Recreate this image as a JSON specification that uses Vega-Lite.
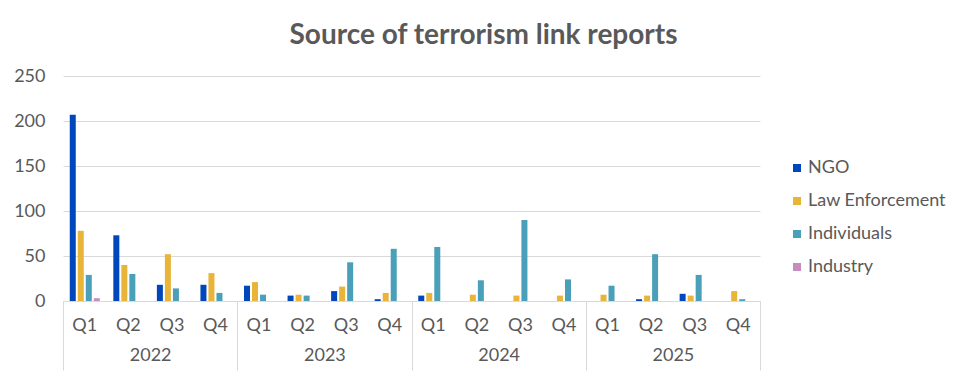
{
  "$schema": "https://vega.github.io/schema/vega-lite/v6.json",
  "width": 697,
  "height": 225,
  "autosize": {"type": "none"},
  "padding": {"left": 63, "top": 76, "right": 208, "bottom": 83},
  "background": "white",
  "title": {
    "text": "Source of terrorism link reports",
    "font": "Lato",
    "fontSize": 28,
    "fontWeight": "bold",
    "color": "#595959",
    "anchor": "middle",
    "frame": "group",
    "dx": 72,
    "offset": 17
  },
  "config": {
    "view": {"stroke": null},
    "font": "Lato"
  },
  "layer": [
    {
      "data": {
        "values": [
          {"period": "2022 Q1", "source": "NGO", "value": 207},
          {"period": "2022 Q1", "source": "Law Enforcement", "value": 78},
          {"period": "2022 Q1", "source": "Individuals", "value": 29},
          {"period": "2022 Q1", "source": "Industry", "value": 3},
          {"period": "2022 Q2", "source": "NGO", "value": 73},
          {"period": "2022 Q2", "source": "Law Enforcement", "value": 40},
          {"period": "2022 Q2", "source": "Individuals", "value": 30},
          {"period": "2022 Q3", "source": "NGO", "value": 18},
          {"period": "2022 Q3", "source": "Law Enforcement", "value": 52},
          {"period": "2022 Q3", "source": "Individuals", "value": 14},
          {"period": "2022 Q4", "source": "NGO", "value": 18},
          {"period": "2022 Q4", "source": "Law Enforcement", "value": 31},
          {"period": "2022 Q4", "source": "Individuals", "value": 9},
          {"period": "2023 Q1", "source": "NGO", "value": 17},
          {"period": "2023 Q1", "source": "Law Enforcement", "value": 21},
          {"period": "2023 Q1", "source": "Individuals", "value": 7},
          {"period": "2023 Q2", "source": "NGO", "value": 6},
          {"period": "2023 Q2", "source": "Law Enforcement", "value": 7},
          {"period": "2023 Q2", "source": "Individuals", "value": 6},
          {"period": "2023 Q3", "source": "NGO", "value": 11},
          {"period": "2023 Q3", "source": "Law Enforcement", "value": 16},
          {"period": "2023 Q3", "source": "Individuals", "value": 43},
          {"period": "2023 Q4", "source": "NGO", "value": 2},
          {"period": "2023 Q4", "source": "Law Enforcement", "value": 9},
          {"period": "2023 Q4", "source": "Individuals", "value": 58},
          {"period": "2024 Q1", "source": "NGO", "value": 6},
          {"period": "2024 Q1", "source": "Law Enforcement", "value": 9},
          {"period": "2024 Q1", "source": "Individuals", "value": 60},
          {"period": "2024 Q2", "source": "Law Enforcement", "value": 7},
          {"period": "2024 Q2", "source": "Individuals", "value": 23},
          {"period": "2024 Q3", "source": "Law Enforcement", "value": 6},
          {"period": "2024 Q3", "source": "Individuals", "value": 90},
          {"period": "2024 Q4", "source": "Law Enforcement", "value": 6},
          {"period": "2024 Q4", "source": "Individuals", "value": 24},
          {"period": "2025 Q1", "source": "Law Enforcement", "value": 7},
          {"period": "2025 Q1", "source": "Individuals", "value": 17},
          {"period": "2025 Q2", "source": "NGO", "value": 2},
          {"period": "2025 Q2", "source": "Law Enforcement", "value": 6},
          {"period": "2025 Q2", "source": "Individuals", "value": 52},
          {"period": "2025 Q3", "source": "NGO", "value": 8},
          {"period": "2025 Q3", "source": "Law Enforcement", "value": 6},
          {"period": "2025 Q3", "source": "Individuals", "value": 29},
          {"period": "2025 Q4", "source": "Law Enforcement", "value": 11},
          {"period": "2025 Q4", "source": "Individuals", "value": 2}
        ]
      },
      "mark": {"type": "bar"},
      "encoding": {
        "x": {
          "field": "period",
          "type": "nominal",
          "sort": null,
          "scale": {"paddingInner": 0.31, "paddingOuter": 0.155},
          "axis": {
            "title": null,
            "orient": "bottom",
            "labelExpr": "slice(datum.label, 5)",
            "labelAngle": 0,
            "ticks": false,
            "grid": false,
            "domain": true,
            "domainColor": "#d9d9d9",
            "domainWidth": 1,
            "labelFont": "Lato",
            "labelFontSize": 18,
            "labelColor": "#595959",
            "labelPadding": 15
          }
        },
        "xOffset": {
          "field": "source",
          "type": "nominal",
          "sort": ["NGO", "Law Enforcement", "Individuals", "Industry"],
          "scale": {"domain": ["NGO", "Law Enforcement", "Individuals", "Industry"], "paddingInner": 0.25, "paddingOuter": 0}
        },
        "y": {
          "field": "value",
          "type": "quantitative",
          "scale": {"domain": [0, 250], "nice": false},
          "axis": {
            "title": null,
            "values": [0, 50, 100, 150, 200, 250],
            "domain": false,
            "ticks": false,
            "gridColor": "#d9d9d9",
            "gridWidth": 1,
            "labelFont": "Lato",
            "labelFontSize": 18,
            "labelColor": "#595959",
            "labelPadding": 18
          }
        },
        "color": {
          "field": "source",
          "type": "nominal",
          "sort": ["NGO", "Law Enforcement", "Individuals", "Industry"],
          "scale": {
            "domain": ["NGO", "Law Enforcement", "Individuals", "Industry"],
            "range": ["#0047BB", "#E9B43A", "#4A9FB9", "#C68DC0"]
          },
          "legend": {
            "title": null,
            "orient": "none",
            "legendX": 725,
            "legendY": 83,
            "padding": 0,
            "symbolType": "square",
            "symbolSize": 64,
            "symbolStrokeWidth": 0,
            "labelFont": "Lato",
            "labelFontSize": 18,
            "labelColor": "#595959",
            "labelOffset": 2,
            "rowPadding": 15
          }
        }
      }
    },
    {
      "data": {"values": [{"year": "2022"}, {"year": "2023"}, {"year": "2024"}, {"year": "2025"}]},
      "mark": {"type": "tick", "opacity": 0},
      "encoding": {
        "x": {
          "field": "year",
          "type": "ordinal",
          "scale": {"type": "band", "paddingInner": 0, "paddingOuter": 0},
          "axis": {
            "title": null,
            "orient": "bottom",
            "labelAngle": 0,
            "domain": false,
            "grid": false,
            "ticks": true,
            "tickBand": "extent",
            "tickSize": 69,
            "tickColor": "#d9d9d9",
            "tickWidth": 1,
            "labelFont": "Lato",
            "labelFontSize": 18,
            "labelColor": "#595959",
            "labelPadding": -24
          }
        }
      }
    }
  ],
  "resolve": {"scale": {"x": "independent"}}
}
